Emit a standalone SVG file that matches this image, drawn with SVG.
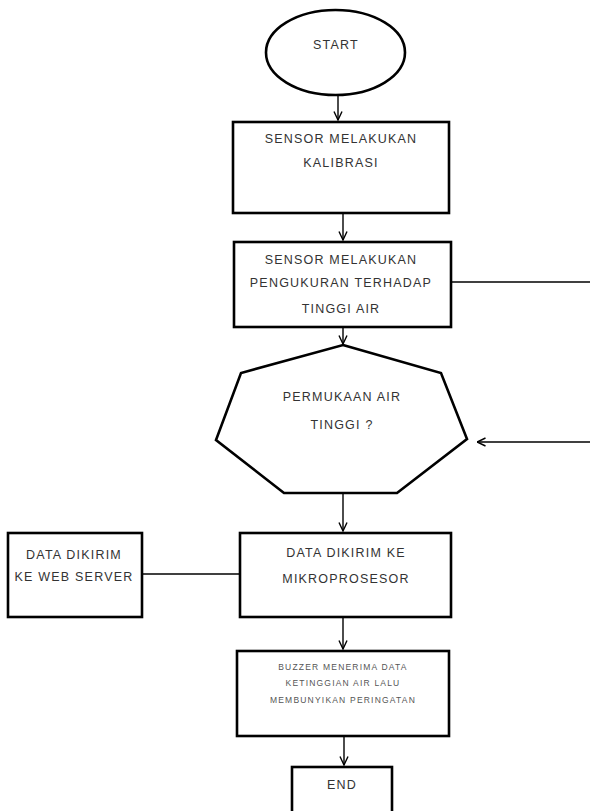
<svg xmlns="http://www.w3.org/2000/svg" width="590" height="811" viewBox="0 0 590 811">
<style>
.shape{fill:#fff;stroke:#000;stroke-width:2.6}
.t{font-family:"Liberation Sans",Arial,sans-serif;font-size:12.5px;fill:#333;text-anchor:middle;letter-spacing:1.2px}
.s{font-family:"Liberation Sans",Arial,sans-serif;font-size:8.5px;fill:#555;text-anchor:middle;letter-spacing:1.2px}
.c{fill:none;stroke:#000;stroke-width:1.4}
</style>
<defs>
<marker id="ah" viewBox="0 0 10 10" refX="9.5" refY="5" markerWidth="10" markerHeight="10" markerUnits="userSpaceOnUse" orient="auto">
<polyline points="1,1 9.5,5 1,9" fill="none" stroke="#000" stroke-width="1.4"/>
</marker>
</defs>
<rect width="590" height="811" fill="#fff"/>
<g id="connectors">
<line class="c" x1="338" y1="95" x2="338" y2="120" marker-end="url(#ah)"/>
<line class="c" x1="343" y1="213" x2="343" y2="240" marker-end="url(#ah)"/>
<line class="c" x1="343" y1="327" x2="343" y2="344" marker-end="url(#ah)"/>
<line class="c" x1="451" y1="282" x2="590" y2="282"/>
<line class="c" x1="590" y1="442" x2="477" y2="442" marker-end="url(#ah)"/>
<line class="c" x1="343" y1="493" x2="343" y2="531" marker-end="url(#ah)"/>
<line class="c" x1="142" y1="574" x2="240" y2="574"/>
<line class="c" x1="343" y1="617" x2="343" y2="649" marker-end="url(#ah)"/>
<line class="c" x1="344" y1="736" x2="344" y2="765" marker-end="url(#ah)"/>
</g>
<g id="start">
<ellipse class="shape" cx="335.5" cy="52.5" rx="69.5" ry="42.5"/>
<text class="t" x="336" y="49">START</text>
</g>
<g id="kalibrasi">
<rect class="shape" x="233" y="122" width="216" height="91"/>
<text class="t" x="341" y="143">SENSOR MELAKUKAN</text>
<text class="t" x="341" y="167">KALIBRASI</text>
</g>
<g id="pengukuran">
<rect class="shape" x="234" y="242" width="217" height="85"/>
<text class="t" x="341" y="264">SENSOR MELAKUKAN</text>
<text class="t" x="341" y="287">PENGUKURAN TERHADAP</text>
<text class="t" x="341" y="313">TINGGI AIR</text>
</g>
<g id="decision">
<polygon class="shape" points="343,345 441,373 467,439 397,493 284,493 216,440 241,373"/>
<text class="t" x="342" y="401">PERMUKAAN AIR</text>
<text class="t" x="342" y="429">TINGGI ?</text>
</g>
<g id="webserver">
<rect class="shape" x="8" y="533" width="134" height="84"/>
<text class="t" x="74" y="559">DATA DIKIRIM</text>
<text class="t" x="74" y="581">KE WEB SERVER</text>
</g>
<g id="mikroprosesor">
<rect class="shape" x="240" y="533" width="211" height="84"/>
<text class="t" x="346" y="557">DATA DIKIRIM KE</text>
<text class="t" x="346" y="583">MIKROPROSESOR</text>
</g>
<g id="buzzer">
<rect class="shape" x="237" y="651" width="212" height="85"/>
<text class="s" x="343" y="670">BUZZER MENERIMA DATA</text>
<text class="s" x="343" y="686">KETINGGIAN AIR LALU</text>
<text class="s" x="343" y="703">MEMBUNYIKAN PERINGATAN</text>
</g>
<g id="end">
<rect class="shape" x="292" y="767" width="100" height="50"/>
<text class="t" x="342" y="789">END</text>
</g>
</svg>
